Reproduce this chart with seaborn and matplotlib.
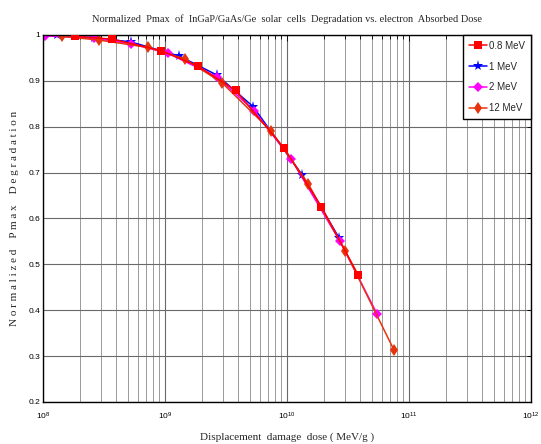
import numpy as np
import pandas as pd
import matplotlib
matplotlib.use("Agg")
import matplotlib.pyplot as plt
import matplotlib.ticker as mticker
import seaborn as sns

# --- dati ---
dose_08 = [1.83e8, 3.70e8, 9.27e8, 1.87e9, 3.80e9, 9.5e9, 1.91e10, 3.85e10]
pmax_08 = [0.997, 0.991, 0.966, 0.932, 0.879, 0.753, 0.626, 0.476]

dose_1 = [1.29e8, 2.63e8, 5.23e8, 1.31e9, 2.65e9, 5.27e9, 1.33e10, 2.68e10]
pmax_1 = [1.000, 0.994, 0.985, 0.954, 0.913, 0.844, 0.695, 0.557]

dose_2 = [1.04e8, 2.62e8, 5.26e8, 1.06e9, 2.69e9, 5.37e9, 1.08e10, 2.72e10, 5.5e10]
pmax_2 = [0.998, 0.993, 0.981, 0.960, 0.908, 0.835, 0.730, 0.550, 0.391]

dose_12 = [1.42e8, 2.86e8, 7.26e8, 1.45e9, 2.93e9, 7.39e9, 1.49e10, 2.99e10, 7.54e10]
pmax_12 = [0.997, 0.989, 0.973, 0.948, 0.896, 0.791, 0.676, 0.530, 0.313]

energie = ["0.8 MeV", "1 MeV", "2 MeV", "12 MeV"]
colori = ["#ff0000", "#0000ff", "#ff00ff", "#e8340c"]
marcatori = ["s", "*", "D", "d"]
dimensioni = {"0.8 MeV": 6, "1 MeV": 8, "2 MeV": 5, "12 MeV": 6.5}

df = pd.concat([
    pd.DataFrame({"dose": d, "pmax": p, "energia": e})
    for d, p, e in zip([dose_08, dose_1, dose_2, dose_12],
                       [pmax_08, pmax_1, pmax_2, pmax_12], energie)
], ignore_index=True)

sns.set_theme(style="white")
plt.rcParams["font.family"] = ["Liberation Sans", "DejaVu Sans"]

fig = plt.figure(figsize=(5.41, 4.44), dpi=100)
ax = fig.add_axes([0.0795, 0.0946, 0.902, 0.8266])

sns.lineplot(data=df, x="dose", y="pmax", hue="energia", style="energia",
             hue_order=energie, style_order=energie,
             palette=dict(zip(energie, colori)),
             markers=dict(zip(energie, marcatori)), dashes=False,
             markersize=6, markeredgewidth=0, linewidth=1.1,
             sort=False, estimator=None, ax=ax, legend=True)

# marcatori di dimensione diversa per serie (stella piu' grande)
for ln, e in zip(ax.lines[:4], energie):
    ln.set_markersize(dimensioni[e])
ax.lines[0].set_zorder(4)

ax.set_xscale("log")
ax.set_xlim(1e8, 1e12)
ax.set_ylim(0.2, 1.0)
ax.yaxis.set_major_locator(mticker.MultipleLocator(0.1))
ax.yaxis.set_major_formatter(mticker.FuncFormatter(lambda v, p: f"{v:g}"))
ax.xaxis.set_minor_locator(mticker.LogLocator(base=10, subs=np.arange(2, 10)))
ax.xaxis.set_minor_formatter(mticker.NullFormatter())

ax.grid(True, which="major", color="#6a6a6a", linewidth=0.8)
ax.grid(True, which="minor", axis="x", color="#9a9a9a", linewidth=0.7)
ax.tick_params(axis="both", which="both", direction="in", top=True, right=True,
               labelsize=6, length=3, width=0.6, colors="black", pad=2)
ax.tick_params(axis="x", which="major", length=4, pad=6)
for s in ax.spines.values():
    s.set_color("black")
    s.set_linewidth(1.0)

ax.set_title("Normalized  Pmax  of  InGaP/GaAs/Ge  solar  cells  Degradation vs. electron  Absorbed Dose",
             fontsize=7.5, family="Liberation Serif", pad=9)
ax.set_xlabel("Displacement  damage  dose ( MeV/g )", fontsize=8, family="Liberation Serif", labelpad=8)
ax.set_ylabel("N o r m a l i z e d    P m a x    D e g r a d a t i o n", fontsize=8,
              family="Liberation Serif", labelpad=7)

handles, labels = ax.get_legend_handles_labels()
for h, l in zip(handles, labels):
    if l in dimensioni:
        h.set_markersize(dimensioni[l])
leg = ax.legend(handles, labels, loc="upper right", fontsize=7, frameon=True,
                fancybox=False, edgecolor="black", framealpha=1,
                borderpad=0.6, labelspacing=1.1, handlelength=1.9, handletextpad=0.2,
                borderaxespad=0.0, bbox_to_anchor=(1.0, 1.0))
leg.get_frame().set_linewidth(1.0)

fig.savefig("out.png", dpi=100)
